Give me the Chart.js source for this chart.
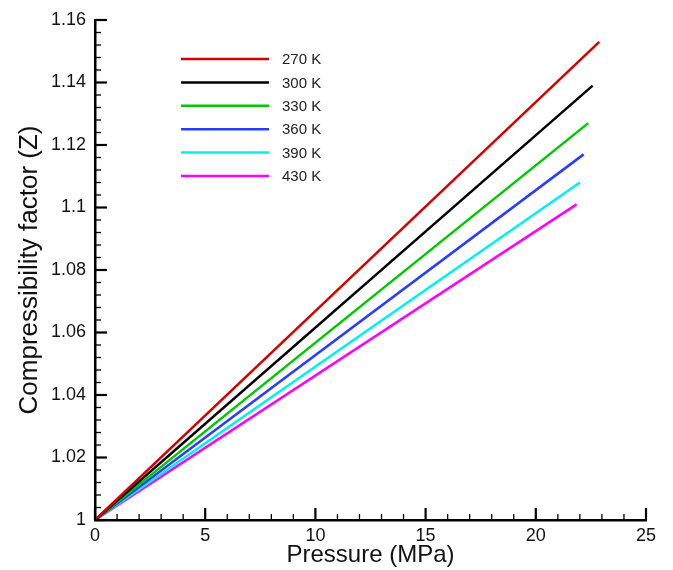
<!DOCTYPE html>
<html>
<head>
<meta charset="utf-8">
<script src="https://cdn.jsdelivr.net/npm/chart.js@4.4.0/dist/chart.umd.min.js"></script>
<style>
  html, body { margin: 0; padding: 0; background: #fff; }
  #wrap { width: 673px; height: 570px; }
</style>
</head>
<body>
<div id="wrap"><canvas id="zChart" width="673" height="570"></canvas></div>
<script>
/* Data: Z vs pressure, lines from (0, 1) to the end point */
let temps = ['270 K', '300 K', '330 K', '360 K', '390 K', '430 K'];
let pressures = [
  [0, 22.88],
  [0, 22.58],
  [0, 22.38],
  [0, 22.17],
  [0, 22.0],
  [0, 21.85],
];
let zValues = [
  [1, 1.153],
  [1, 1.139],
  [1, 1.127],
  [1, 1.117],
  [1, 1.108],
  [1, 1.101],
];
let colors = ['#d40000', '#000000', '#00c800', '#2a3cff', '#00f0f0', '#ff00ff'];

let fontFamily = "'Liberation Sans', Arial, sans-serif";

//-----------------------------------------------//
/* inward major + minor ticks, like the original plot */
//-----------------------------------------------//
const inwardTicks = {
  id: 'inwardTicks',
  afterDatasetsDraw(chart) {
    const ctx = chart.ctx;
    const xs = chart.scales.x;
    const ys = chart.scales.y;
    const area = chart.chartArea;
    ctx.save();
    ctx.strokeStyle = '#000';
    // x ticks every 1, major every 5
    for (let i = 0; i <= 25; i++) {
      const px = xs.getPixelForValue(i);
      const major = i % 5 === 0;
      ctx.lineWidth = major ? 2.2 : 1.3;
      ctx.beginPath();
      ctx.moveTo(px, area.bottom);
      ctx.lineTo(px, area.bottom - (major ? 12 : 6));
      ctx.stroke();
    }
    // y ticks every 0.004, major every 0.02
    for (let j = 0; j <= 40; j++) {
      const py = ys.getPixelForValue(1 + j * 0.004);
      const major = j % 5 === 0;
      ctx.lineWidth = major ? 2.2 : 1.3;
      ctx.beginPath();
      ctx.moveTo(area.left, py);
      ctx.lineTo(area.left + (major ? 12 : 6), py);
      ctx.stroke();
    }
    ctx.restore();
  },
};

//-----------------------------------------------//
/* legend drawn inside the plot area */
//-----------------------------------------------//
const innerLegend = {
  id: 'innerLegend',
  afterDraw(chart) {
    const ctx = chart.ctx;
    const area = chart.chartArea;
    ctx.save();
    ctx.font = '15px ' + fontFamily;
    ctx.textBaseline = 'middle';
    chart.data.datasets.forEach((ds, i) => {
      const y = area.top + 39 + i * 23.4;
      ctx.strokeStyle = ds.borderColor;
      ctx.lineWidth = 2.5;
      ctx.beginPath();
      ctx.moveTo(area.left + 86, y);
      ctx.lineTo(area.left + 174, y);
      ctx.stroke();
      ctx.fillStyle = '#222';
      ctx.fillText(ds.label, area.left + 187, y + 1);
    });
    ctx.restore();
  },
};

function buildDatasets() {
  return temps.map((t, i) => ({
    label: t,
    data: pressures[i].map((p, k) => ({ x: p, y: zValues[i][k] })),
    borderColor: colors[i],
    backgroundColor: colors[i],
    borderWidth: 2.5,
    pointRadius: 0,
    fill: false,
    tension: 0,
  }));
}

function zChart() {
  let ctx = document.getElementById('zChart').getContext('2d');
  let chart = new Chart(ctx, {
    type: 'line',
    data: { datasets: buildDatasets() },
    options: {
      responsive: false,
      animation: false,
      layout: { padding: { top: 20, right: 27, left: 14, bottom: 0 } },
      scales: {
        x: {
          type: 'linear',
          min: 0,
          max: 25,
          grid: { display: false, drawTicks: false },
          border: { display: true, color: '#000', width: 2.5 },
          ticks: {
            stepSize: 5,
            padding: 5,
            color: '#111',
            font: { family: fontFamily, size: 18 },
            maxRotation: 0,
          },
          title: {
            display: true,
            text: 'Pressure (MPa)',
            color: '#111',
            padding: 0,
            font: { family: fontFamily, size: 24 },
          },
          afterFit(scale) {
            scale.height = 50;
          },
        },
        y: {
          type: 'linear',
          min: 1,
          max: 1.16,
          grid: { display: false, drawTicks: false },
          border: { display: true, color: '#000', width: 2.5 },
          ticks: {
            stepSize: 0.02,
            padding: 9,
            color: '#111',
            font: { family: fontFamily, size: 18 },
            callback: (v) => Number(v.toFixed(2)).toString(),
          },
          title: {
            display: true,
            text: 'Compressibility factor (Z)',
            color: '#111',
            padding: 0,
            font: { family: fontFamily, size: 26 },
          },
          afterFit(scale) {
            scale.width = 81;
          },
        },
      },
      plugins: {
        legend: { display: false },
        tooltip: { enabled: false },
      },
    },
    plugins: [inwardTicks, innerLegend],
  });
}

zChart();
</script>
</body>
</html>
